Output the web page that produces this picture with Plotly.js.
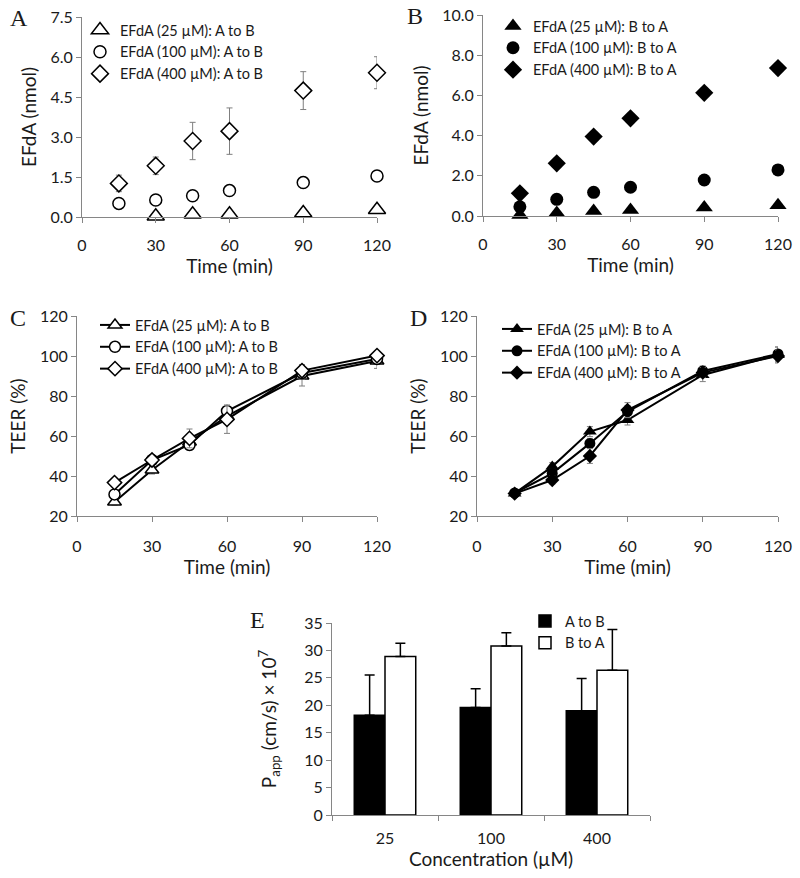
<!DOCTYPE html>
<html>
<head>
<meta charset="utf-8">
<script src="https://cdn.plot.ly/plotly-3.0.1.min.js"></script>
<style>html,body{margin:0;padding:0;background:#fff;}#chart{width:800px;height:878px;}</style>
</head>
<body>
<div id="chart"></div>
<script>
// ---------- DATA ----------
const timeMin = [15, 30, 45, 60, 90, 120];

// Panel A: EFdA transported A to B (nmol)
const aToB25 = [null, 0.03, 0.1, 0.1, 0.15, 0.27];
const aToB25Err = [0, 0.03, 0.03, 0.03, 0.05, 0.05];
const aToB100 = [0.51, 0.64, 0.8, 0.99, 1.29, 1.54];
const aToB100Err = [0.05, 0.05, 0.05, 0.05, 0.2, 0.1];
const aToB400 = [1.26, 1.92, 2.85, 3.22, 4.74, 5.41];
const aToB400Err = [0.31, 0.33, 0.7, 0.87, 0.71, 0.6];

// Panel B: EFdA transported B to A (nmol)
const bToA25 = [0.05, 0.15, 0.25, 0.3, 0.42, 0.53];
const bToA100 = [0.46, 0.83, 1.18, 1.43, 1.79, 2.29];
const bToA400 = [1.13, 2.62, 3.95, 4.86, 6.13, 7.36];

// Panel C: TEER (%) A to B
const teerAB25 = [27, 43, 57, 70, 90, 97.5];
const teerAB25Err = [1.5, 2, 2.5, 3, 5, 3.7];
const teerAB100 = [30.8, 48, 55.5, 72.5, 91.5, 98.5];
const teerAB100Err = [1.5, 2, 2.5, 3, 3, 2.5];
const teerAB400 = [36.7, 48, 58.8, 68.3, 92.7, 100.2];
const teerAB400Err = [1.5, 2, 4.7, 7, 3, 2];

// Panel D: TEER (%) B to A
const teerBA25 = [31.3, 44.7, 62.2, 68, 90.5, 100.5];
const teerBA25Err = [1.5, 2, 2.5, 2.5, 3.3, 4];
const teerBA100 = [31.5, 41.3, 56.3, 72.2, 92.5, 101];
const teerBA100Err = [1.5, 2, 2.5, 3, 2.5, 3.5];
const teerBA400 = [31.2, 38, 50, 73, 91.7, 100];
const teerBA400Err = [1.5, 2, 3.7, 3.7, 2.5, 3];

// Panel E: Papp (cm/s) x 10^7
const concLabels = ['25', '100', '400'];
const pappAB = [18.2, 19.6, 19.0];
const pappABErr = [7.3, 3.4, 5.9];
const pappBA = [28.9, 30.8, 26.4];
const pappBAErr = [2.4, 2.4, 7.4];

const nameAB = ['EFdA (25 µM): A to B', 'EFdA (100 µM): A to B', 'EFdA (400 µM): A to B'];
const nameBA = ['EFdA (25 µM): B to A', 'EFdA (100 µM): B to A', 'EFdA (400 µM): B to A'];

// ---------- HELPERS ----------
const W = 800, H = 878;
const px = v => v / W;
const py = v => 1 - v / H;
const FONT = 'Lato, "Open Sans", sans-serif';
const TXT = '#1a1a1a';
const AXC = '#868686';
const ERRC = '#7f7f7f';

function err(arr) {
  return {type: 'data', array: arr, visible: true, color: ERRC, thickness: 1, width: 3};
}
function axis(opts) {
  const a = {
    showline: true, linecolor: AXC, linewidth: 1,
    ticks: 'outside', tickcolor: AXC, ticklen: 5, tickwidth: 1,
    showgrid: false, zeroline: false, fixedrange: true,
    tickfont: {family: FONT, size: 16, color: TXT},
    title: {text: opts.titleText || '', font: {family: FONT, size: 19, color: TXT}}
  };
  delete opts.titleText;
  if (opts.standoff !== undefined) { a.title.standoff = opts.standoff; delete opts.standoff; }
  return Object.assign(a, opts);
}

const traces = [];
// Panel A
const symA = ['triangle-up', 'circle', 'diamond'];
const sizeA = [15, 12, 13];
[aToB25, aToB100, aToB400].forEach((ys, i) => {
  traces.push({
    type: 'scatter', mode: 'markers', x: timeMin, y: ys, name: nameAB[i],
    xaxis: 'x', yaxis: 'y', legend: 'legend', cliponaxis: false,
    marker: {symbol: symA[i], size: sizeA[i], color: '#ffffff', line: {color: '#000', width: 1.5}},
    error_y: err([aToB25Err, aToB100Err, aToB400Err][i])
  });
});
// Panel B
const sizeB = [15, 13, 14];
[bToA25, bToA100, bToA400].forEach((ys, i) => {
  traces.push({
    type: 'scatter', mode: 'markers', x: timeMin, y: ys, name: nameBA[i],
    xaxis: 'x2', yaxis: 'y2', legend: 'legend2', cliponaxis: false,
    marker: {symbol: symA[i], size: sizeB[i], color: '#000', line: {color: '#000', width: 0}}
  });
});
// Panel C
const sizeC = [12, 11, 11];
[[teerAB25, teerAB25Err], [teerAB100, teerAB100Err], [teerAB400, teerAB400Err]].forEach((d, i) => {
  traces.push({
    type: 'scatter', mode: 'lines+markers', x: timeMin, y: d[0], name: nameAB[i],
    xaxis: 'x3', yaxis: 'y3', legend: 'legend3', cliponaxis: false,
    line: {color: '#000', width: 2},
    marker: {symbol: symA[i], size: sizeC[i], color: '#ffffff', line: {color: '#000', width: 1.5}},
    error_y: err(d[1])
  });
});
// Panel D
[[teerBA25, teerBA25Err], [teerBA100, teerBA100Err], [teerBA400, teerBA400Err]].forEach((d, i) => {
  traces.push({
    type: 'scatter', mode: 'lines+markers', x: timeMin, y: d[0], name: nameBA[i],
    xaxis: 'x4', yaxis: 'y4', legend: 'legend4', cliponaxis: false,
    line: {color: '#000', width: 2},
    marker: {symbol: symA[i], size: sizeC[i], color: '#000', line: {color: '#000', width: 0}},
    error_y: err(d[1])
  });
});
// Panel E
traces.push({
  type: 'bar', x: concLabels, y: pappAB, name: 'A to B', xaxis: 'x5', yaxis: 'y5', legend: 'legend5',
  marker: {color: '#000', line: {color: '#000', width: 1.5}},
  error_y: {type: 'data', array: pappABErr, arrayminus: [0, 0, 0], symmetric: false, color: '#000', thickness: 1.5, width: 5}
});
traces.push({
  type: 'bar', x: concLabels, y: pappBA, name: 'B to A', xaxis: 'x5', yaxis: 'y5', legend: 'legend5',
  marker: {color: '#fff', line: {color: '#000', width: 1.5}},
  error_y: {type: 'data', array: pappBAErr, arrayminus: [0, 0, 0], symmetric: false, color: '#000', thickness: 1.5, width: 5}
});

const legFont = {family: FONT, size: 14.5, color: TXT};
function leg(x, y) {
  return {x: px(x), y: py(y), xanchor: 'left', yanchor: 'top', xref: 'paper', yref: 'paper',
    bgcolor: 'rgba(0,0,0,0)', borderwidth: 0, font: legFont, itemclick: false};
}

const panelLabel = (t, x, y) => ({text: t, x: px(x), y: py(y), xref: 'paper', yref: 'paper', showarrow: false,
  xanchor: 'left', yanchor: 'middle', font: {family: '"Liberation Serif", "Times New Roman", serif', size: 24, color: TXT}});

const layout = {
  width: W, height: H, margin: {l: 0, r: 0, t: 0, b: 0},
  paper_bgcolor: '#fff', plot_bgcolor: '#fff', showlegend: true,
  barmode: 'group', bargap: 0.42, bargroupgap: 0,
  xaxis: axis({domain: [px(82), px(377)], range: [0, 120], tick0: 0, dtick: 30, anchor: 'y', titleText: 'Time (min)', ticklabelstandoff: 9, standoff: 2}),
  yaxis: axis({domain: [py(217), py(17)], range: [0, 7.5], tick0: 0, dtick: 1.5, tickformat: '.1f', anchor: 'x', titleText: 'EFdA (nmol)', standoff: 8}),
  xaxis2: axis({domain: [px(483), px(778)], range: [0, 120], tick0: 0, dtick: 30, anchor: 'y2', titleText: 'Time (min)', ticklabelstandoff: 9, standoff: 2}),
  yaxis2: axis({domain: [py(216), py(15)], range: [0, 10], tick0: 0, dtick: 2, tickformat: '.1f', anchor: 'x2', titleText: 'EFdA (nmol)', standoff: 8}),
  xaxis3: axis({domain: [px(77), px(377)], range: [0, 120], tick0: 0, dtick: 30, anchor: 'y3', titleText: 'Time (min)', ticklabelstandoff: 11, standoff: 2}),
  yaxis3: axis({domain: [py(516), py(316)], range: [20, 120], tick0: 20, dtick: 20, anchor: 'x3', titleText: 'TEER (%)', standoff: 9}),
  xaxis4: axis({domain: [px(477), px(778)], range: [0, 120], tick0: 0, dtick: 30, anchor: 'y4', titleText: 'Time (min)', ticklabelstandoff: 11, standoff: 2}),
  yaxis4: axis({domain: [py(516), py(316)], range: [20, 120], tick0: 20, dtick: 20, anchor: 'x4', titleText: 'TEER (%)', standoff: 9}),
  xaxis5: axis({domain: [px(332), px(650)], type: 'category', range: [-0.5, 2.5], tickson: 'boundaries', anchor: 'y5', titleText: 'Concentration (µM)', ticklabelstandoff: 9, standoff: 0}),
  yaxis5: axis({domain: [py(815), py(623)], range: [0, 35], tick0: 0, dtick: 5, anchor: 'x5', titleText: 'P<sub>app</sub> (cm/s) × 10<sup>7</sup>', standoff: 22}),
  legend: leg(80, 14),
  legend2: leg(493, 10),
  legend3: leg(95, 309),
  legend4: leg(497, 313),
  legend5: leg(525, 605),
  annotations: [
    panelLabel('A', 8, 18), panelLabel('B', 405, 16), panelLabel('C', 8, 318),
    panelLabel('D', 408, 318), panelLabel('E', 248, 620)
  ]
};

Plotly.newPlot('chart', traces, layout, {displayModeBar: false, staticPlot: true});
</script>
</body>
</html>
